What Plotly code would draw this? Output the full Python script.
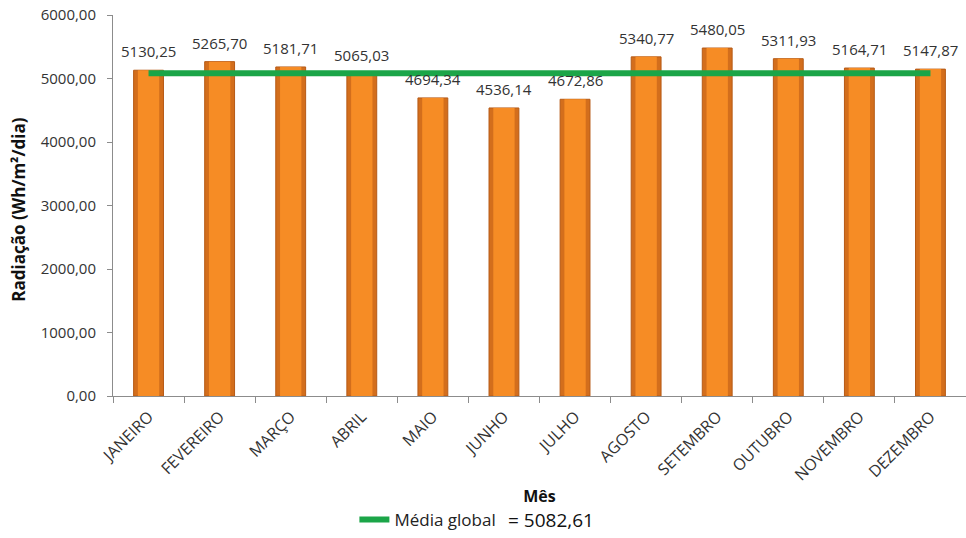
import plotly.graph_objects as go

# Monthly mean solar radiation (Wh/m²/dia)
meses = ["JANEIRO", "FEVEREIRO", "MARÇO", "ABRIL", "MAIO", "JUNHO",
         "JULHO", "AGOSTO", "SETEMBRO", "OUTUBRO", "NOVEMBRO", "DEZEMBRO"]
radiacao = [5130.25, 5265.70, 5181.71, 5065.03, 4694.34, 4536.14,
            4672.86, 5340.77, 5480.05, 5311.93, 5164.71, 5147.87]
media_global = 5082.61

FONT = "Open Sans"
TXT = "#333333"

fig = go.Figure()

# Cylinder-like shading: darker outer bar with a lighter core on top
fig.add_trace(go.Bar(
    x=meses, y=radiacao, width=0.42,
    marker=dict(color="#D36E1C", line=dict(color="#B65A16", width=1)),
    showlegend=False, hoverinfo="skip",
))
fig.add_trace(go.Bar(
    x=meses, y=radiacao, width=0.30,
    marker=dict(color="#F68C25", line=dict(width=0)),
    showlegend=False, hovertemplate="%{x}: %{y:.2f}<extra></extra>",
))

# Global average line across the months
fig.add_trace(go.Scatter(
    x=meses, y=[media_global] * len(meses), mode="lines",
    line=dict(color="#1BA548", width=6),
    name="Média global",
))

# Value labels above each bar
for m, v in zip(meses, radiacao):
    fig.add_annotation(
        x=m, y=v, text=f"{v:.2f}".replace(".", ","),
        showarrow=False, yanchor="bottom", yshift=7,
        font=dict(family=FONT, size=15, color=TXT),
    )

# Average value shown beside the legend entry
fig.add_annotation(
    xref="paper", yref="paper", x=0.461, y=-0.325,
    xanchor="left", yanchor="middle",
    text="= " + f"{media_global:.2f}".replace(".", ","),
    showarrow=False, font=dict(family=FONT, size=19, color="#111111"),
)

# Y axis title
fig.add_annotation(
    xref="paper", yref="paper", x=-0.111, y=0.49,
    xanchor="center", yanchor="middle", textangle=-90,
    text="<b>Radiação (Wh/m²/dia)</b>", showarrow=False,
    font=dict(family=FONT, size=17, color="#111111"),
)

fig.update_layout(
    width=966, height=538,
    margin=dict(l=113, r=0, t=15, b=140),
    paper_bgcolor="white", plot_bgcolor="white",
    barmode="overlay",
    separators=",.",
    font=dict(family=FONT, color=TXT),
    legend=dict(
        orientation="h", x=0.283, y=-0.325, xanchor="left", yanchor="middle",
        font=dict(family=FONT, size=17, color="#222222"),
        itemwidth=30,
    ),
    xaxis=dict(
        showline=True, linecolor="#8C8C8C", linewidth=1,
        ticks="outside", tickson="boundaries", ticklen=6, tickcolor="#8C8C8C",
        tickangle=-45, tickfont=dict(family=FONT, size=16, color=TXT),
        ticklabelstandoff=4,
        title=dict(text="<b>Mês</b>", font=dict(family=FONT, size=16, color="#111111"),
                   standoff=6),
        showgrid=False,
    ),
    yaxis=dict(
        range=[0, 6000], dtick=1000, tickformat=".2f",
        showline=True, linecolor="#8C8C8C", linewidth=1,
        ticks="outside", ticklen=5, tickcolor="#8C8C8C",
        tickfont=dict(family=FONT, size=15, color=TXT),
        ticklabelstandoff=8,
        showgrid=False, zeroline=False,
    ),
)

fig.write_html("out.html")
